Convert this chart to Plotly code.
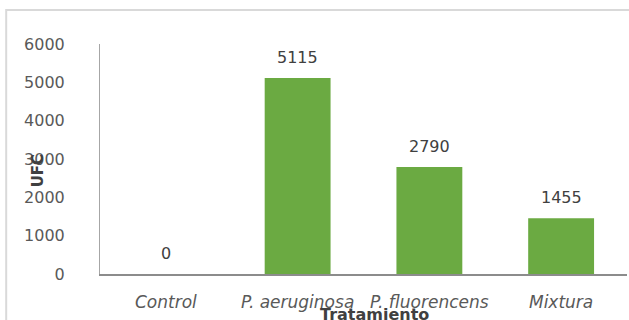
import plotly.graph_objects as go

categories = ["Control", "P. aeruginosa", "P. fluorencens", "Mixtura"]
values = [0, 5115, 2790, 1455]
y_ticks = [0, 1000, 2000, 3000, 4000, 5000, 6000]
x_title = "Tratamiento"
y_title = "UFC"

FONT = "DejaVu Sans"

fig = go.Figure()
fig.add_trace(go.Bar(
    x=categories, y=values,
    marker=dict(color="#6BAA42", line=dict(width=0)),
    width=0.5, textposition="none", hoverinfo="skip",
))

for c, v in zip(categories, values):
    fig.add_annotation(x=c, y=v, xref="x", yref="y", text=str(v), showarrow=False,
                       yanchor="bottom", yshift=9,
                       font=dict(family=FONT, size=16, color="#404040"))

fig.add_annotation(x=0.52, y=-0.175, xref="paper", yref="paper", text="<b>%s</b>" % x_title,
                   showarrow=False, yanchor="middle", xanchor="center",
                   font=dict(family=FONT, size=16, color="#404040"))
fig.add_annotation(x=-0.118, y=0.45, xref="paper", yref="paper", text="<b>%s</b>" % y_title,
                   showarrow=False, textangle=-90, xanchor="center", yanchor="middle",
                   font=dict(family=FONT, size=15, color="#404040"))

# outer frame (partial, as in the cropped document)
fig.add_shape(type="rect", xref="paper", yref="paper",
              x0=-0.178, x1=1.2, y0=-0.5, y1=1.148,
              line=dict(color="#D9D9D9", width=2), layer="below")

fig.update_layout(
    width=629, height=320,
    margin=dict(l=100, r=2, t=44, b=46),
    paper_bgcolor="white", plot_bgcolor="white",
    showlegend=False,
    bargap=0.5,
    xaxis=dict(
        type="category", showgrid=False, zeroline=False,
        showline=True, linecolor="#8C8C8C", linewidth=1.5,
        ticks="", tickfont=dict(family=FONT, size=17, color="#595959"),
        ticklabelstandoff=12,
        tickvals=categories, ticktext=["<i>%s</i>" % c for c in categories],
    ),
    yaxis=dict(
        range=[0, 6000], tickvals=y_ticks, showgrid=False, zeroline=False,
        showline=True, linecolor="#A6A6A6", linewidth=1,
        ticks="", ticklabelstandoff=31,
        tickfont=dict(family=FONT, size=16, color="#595959"),
    ),
)

fig.write_html("out.html")
